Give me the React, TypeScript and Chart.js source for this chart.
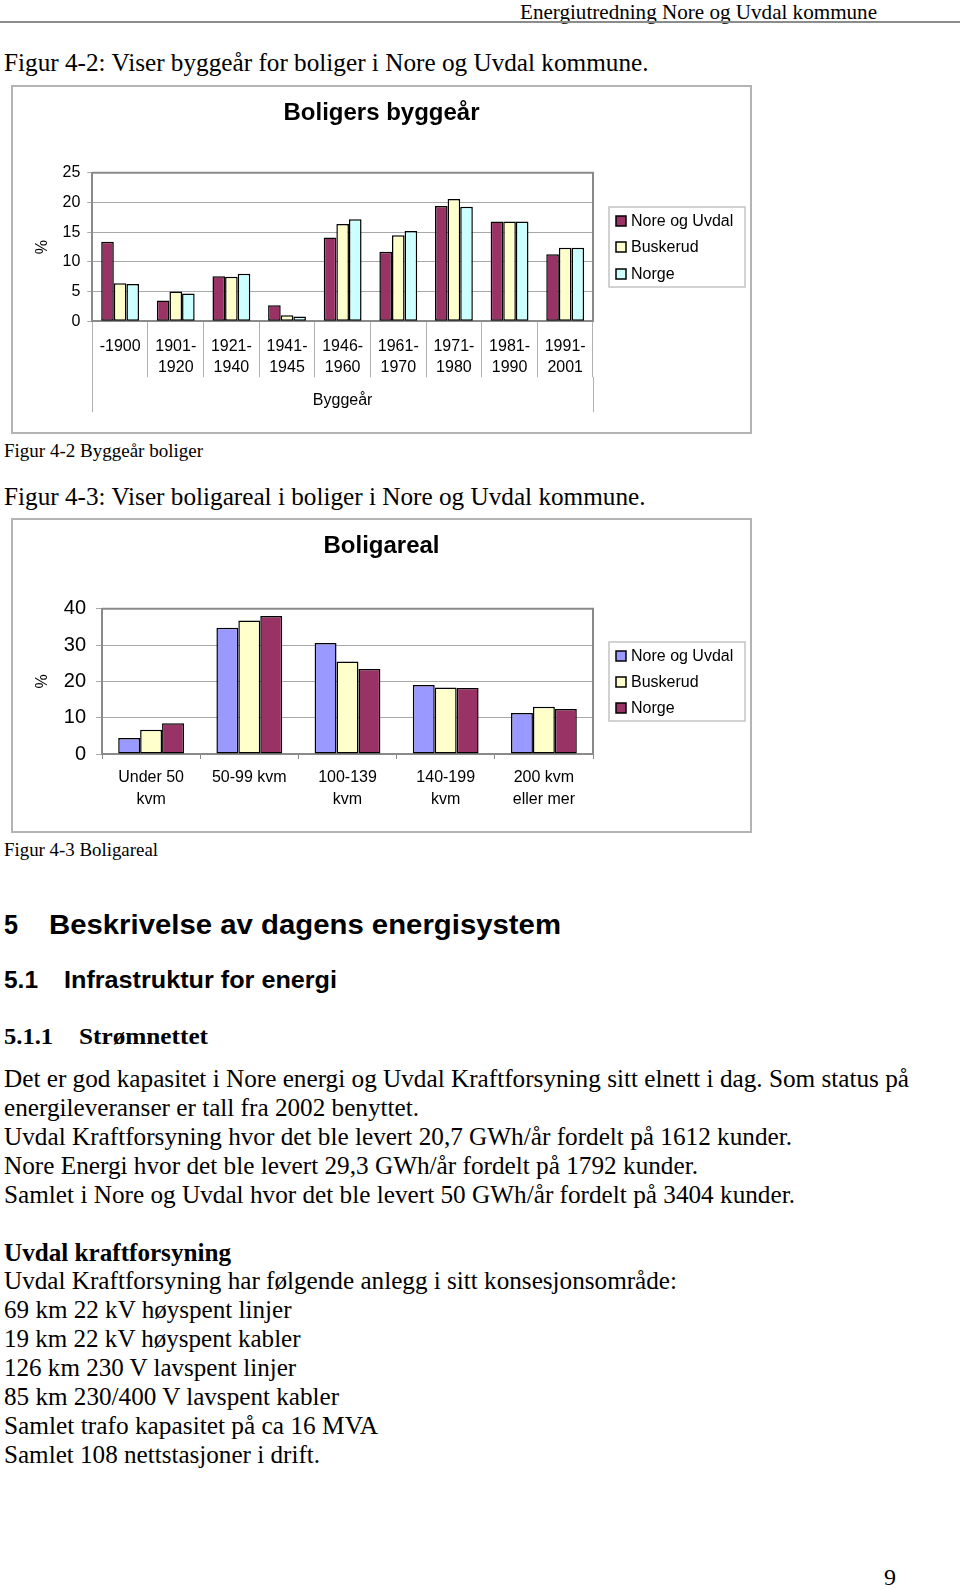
import React, { useEffect, useRef } from 'react';
import { Chart, registerables } from 'chart.js';

Chart.register(...registerables);

// ---------- Data ----------
const byggeCategories: string[][] = [
  ['-1900'], ['1901-', '1920'], ['1921-', '1940'], ['1941-', '1945'], ['1946-', '1960'],
  ['1961-', '1970'], ['1971-', '1980'], ['1981-', '1990'], ['1991-', '2001'],
];
const byggeNoreOgUvdal = [13.4, 3.5, 7.6, 2.7, 14.1, 11.7, 19.4, 16.8, 11.3];
const byggeBuskerud = [6.4, 5.0, 7.5, 1.0, 16.4, 14.5, 20.6, 16.8, 12.4];
const byggeNorge = [6.3, 4.7, 8.0, 0.8, 17.2, 15.2, 19.3, 16.8, 12.4];
const byggeAxisTitle = ['Byggeår'];

const arealCategories: string[][] = [
  ['Under 50', 'kvm'], ['50-99 kvm'], ['100-139', 'kvm'], ['140-199', 'kvm'], ['200 kvm', 'eller mer'],
];
const arealNoreOgUvdal = [4.4, 34.8, 30.6, 19.0, 11.3];
const arealBuskerud = [6.7, 36.8, 25.5, 18.3, 13.0];
const arealNorge = [8.5, 38.0, 23.4, 18.2, 12.4];

const seriesNames = ['Nore og Uvdal', 'Buskerud', 'Norge'];

const SANS = '"Liberation Sans", Arial, sans-serif';
const SERIF = '"Liberation Serif", "Times New Roman", serif';

// ---------- Chart helpers ----------
function legendPlugin(box: { x: number; y: number; w: number; h: number }, itemsY: number[], markerX: number, textX: number) {
  return {
    id: 'boxLegend',
    afterDraw(chart: any) {
      const ctx = chart.ctx;
      ctx.save();
      ctx.fillStyle = '#ffffff';
      ctx.fillRect(box.x, box.y, box.w, box.h);
      ctx.strokeStyle = '#c4c4c4';
      ctx.lineWidth = 1.5;
      ctx.strokeRect(box.x, box.y, box.w, box.h);
      chart.data.datasets.forEach((ds: any, i: number) => {
        const y = itemsY[i];
        ctx.fillStyle = ds.backgroundColor;
        ctx.fillRect(markerX, y - 5, 10, 10);
        ctx.strokeStyle = '#000';
        ctx.lineWidth = 1.5;
        ctx.strokeRect(markerX, y - 5, 10, 10);
        ctx.fillStyle = '#000';
        ctx.font = `16px ${SANS}`;
        ctx.textBaseline = 'middle';
        ctx.textAlign = 'left';
        ctx.fillText(ds.label, textX, y + 1);
      });
      ctx.restore();
    },
  };
}

const framePlugin = {
  id: 'plotFrame',
  beforeDatasetsDraw(chart: any) {
    const { left, top, right, bottom } = chart.chartArea;
    const ctx = chart.ctx;
    ctx.save();
    ctx.strokeStyle = '#8a8a8a';
    ctx.lineWidth = 2;
    ctx.beginPath();
    ctx.moveTo(left, top);
    ctx.lineTo(right, top);
    ctx.lineTo(right, bottom);
    ctx.stroke();
    ctx.restore();
  },
};

// invisible right-hand axis that reserves the legend column
const legendSpace = {
  position: 'right',
  display: true,
  ticks: { display: false },
  grid: { display: false, drawTicks: false },
  border: { display: false },
  afterFit: (axis: any) => { axis.width = 158; },
};

function useChart(ref: React.RefObject<HTMLCanvasElement>, build: () => any) {
  useEffect(() => {
    if (!ref.current) return;
    const chart = new Chart(ref.current, build());
    return () => chart.destroy();
  }, []);
}

function ByggeChart() {
  const ref = useRef<HTMLCanvasElement>(null);
  useChart(ref, () => ({
    type: 'bar',
    data: {
      labels: byggeCategories,
      datasets: [
        { label: seriesNames[0], data: byggeNoreOgUvdal, backgroundColor: '#993366' },
        { label: seriesNames[1], data: byggeBuskerud, backgroundColor: '#FFFFCC' },
        { label: seriesNames[2], data: byggeNorge, backgroundColor: '#CCFFFF' },
      ].map((d) => ({ ...d, borderColor: '#000', borderWidth: 1.5, borderSkipped: false, categoryPercentage: 0.68, barPercentage: 1 })),
    },
    options: {
      responsive: false,
      animation: false,
      layout: { padding: 0 },
      plugins: {
        legend: { display: false },
        tooltip: { enabled: false },
        title: {
          display: true,
          text: 'Boligers byggeår',
          color: '#000',
          font: { family: SANS, size: 24, weight: 'bold', lineHeight: 1.2 },
          padding: { top: 13, bottom: 45 },
        },
      },
      scales: {
        y: {
          min: 0,
          max: 25,
          ticks: { stepSize: 5, color: '#000', font: { family: SANS, size: 16 }, padding: 7 },
          grid: { color: '#a8a8a8', lineWidth: 1, tickLength: 5 },
          border: { color: '#8a8a8a', width: 2 },
          title: { display: true, text: '%', color: '#000', font: { family: SANS, size: 16 }, padding: { top: 21, bottom: 0 } },
          afterFit: (axis: any) => { axis.width = 80.3; },
        },
        yR: legendSpace,
        x: {
          offset: true,
          weight: 0,
          ticks: { color: '#000', font: { family: SANS, size: 16, lineHeight: 1.3 }, padding: -41.4, maxRotation: 0, autoSkip: false },
          grid: { offset: true, drawOnChartArea: false, color: '#b0b0b0', tickLength: 56 },
          border: { color: '#8a8a8a', width: 2 },
          afterFit: (axis: any) => { axis.height = 56; },
        },
        x2: {
          type: 'category',
          position: 'bottom',
          labels: byggeAxisTitle,
          offset: true,
          weight: 1,
          ticks: { color: '#000', font: { family: SANS, size: 16, lineHeight: 1.3 }, padding: -22, maxRotation: 0 },
          grid: { offset: true, drawOnChartArea: false, color: '#b0b0b0', tickLength: 35 },
          border: { display: false },
          afterFit: (axis: any) => { axis.height = 55.7; },
        },
      },
    },
    plugins: [framePlugin, legendPlugin({ x: 597, y: 121, w: 136, h: 80 }, [135, 161, 188], 604, 619)],
  }));
  return <canvas ref={ref} width={739} height={347} style={{ position: 'absolute', left: 12, top: 86 }} />;
}

function ArealChart() {
  const ref = useRef<HTMLCanvasElement>(null);
  useChart(ref, () => ({
    type: 'bar',
    data: {
      labels: arealCategories,
      datasets: [
        { label: seriesNames[0], data: arealNoreOgUvdal, backgroundColor: '#9999FF' },
        { label: seriesNames[1], data: arealBuskerud, backgroundColor: '#FFFFCC' },
        { label: seriesNames[2], data: arealNorge, backgroundColor: '#993366' },
      ].map((d) => ({ ...d, borderColor: '#000', borderWidth: 1.5, borderSkipped: false, categoryPercentage: 0.67, barPercentage: 1 })),
    },
    options: {
      responsive: false,
      animation: false,
      layout: { padding: 0 },
      plugins: {
        legend: { display: false },
        tooltip: { enabled: false },
        title: {
          display: true,
          text: 'Boligareal',
          color: '#000',
          font: { family: SANS, size: 24, weight: 'bold', lineHeight: 1.2 },
          padding: { top: 13, bottom: 48 },
        },
      },
      scales: {
        y: {
          min: 0,
          max: 40,
          ticks: { stepSize: 10, color: '#000', font: { family: SANS, size: 20 }, padding: 10 },
          grid: { color: '#a8a8a8', lineWidth: 1, tickLength: 6 },
          border: { color: '#8a8a8a', width: 2 },
          title: { display: true, text: '%', color: '#000', font: { family: SANS, size: 16 }, padding: { top: 21, bottom: 0 } },
          afterFit: (axis: any) => { axis.width = 90; },
        },
        yR: legendSpace,
        x: {
          offset: true,
          ticks: { color: '#000', font: { family: SANS, size: 16, lineHeight: 1.375 }, padding: 8, maxRotation: 0, autoSkip: false },
          grid: { offset: true, drawOnChartArea: false, color: '#8a8a8a', tickLength: 5 },
          border: { color: '#8a8a8a', width: 2 },
          afterFit: (axis: any) => { axis.height = 78; },
        },
      },
    },
    plugins: [framePlugin, legendPlugin({ x: 597, y: 123, w: 136, h: 79 }, [137, 163, 189], 604, 619)],
  }));
  return <canvas ref={ref} width={739} height={313} style={{ position: 'absolute', left: 12, top: 519 }} />;
}

// ---------- Text helper ----------
let measureCtx: CanvasRenderingContext2D | null = null;
function measure(text: string, font: string) {
  if (!measureCtx) measureCtx = document.createElement('canvas').getContext('2d');
  if (!measureCtx) return 0;
  measureCtx.font = font;
  return measureCtx.measureText(text).width;
}

function T({ text, x, cy, w, size, family = SERIF, weight = 'normal', lh = 29 }: any) {
  const font = `${weight} ${size}px ${family}`;
  const natural = measure(text, font);
  const sx = w && natural ? w / natural : 1;
  return (
    <div
      style={{
        position: 'absolute', left: x, top: cy - lh / 2, height: lh, lineHeight: `${lh}px`, font,
        whiteSpace: 'pre', color: '#000', transform: `scaleX(${sx})`, transformOrigin: '0 0',
      }}
    >
      {text}
    </div>
  );
}

const bodyLines: [string, number, number][] = [
  ['Det er god kapasitet i Nore energi og Uvdal Kraftforsyning sitt elnett i dag. Som status på', 1079, 905],
  ['energileveranser er tall fra 2002 benyttet.', 1108, 415],
  ['Uvdal Kraftforsyning hvor det ble levert 20,7 GWh/år fordelt på 1612 kunder.', 1137, 788],
  ['Nore Energi hvor det ble levert 29,3 GWh/år fordelt på 1792 kunder.', 1166, 694],
  ['Samlet i Nore og Uvdal hvor det ble levert 50 GWh/år fordelt på 3404 kunder.', 1195, 791],
];
const anleggLines: [string, number, number][] = [
  ['Uvdal Kraftforsyning har følgende anlegg i sitt konsesjonsområde:', 1281, 673],
  ['69 km 22 kV høyspent linjer', 1310, 288],
  ['19 km 22 kV høyspent kabler', 1339, 297],
  ['126 km 230 V lavspent linjer', 1368, 293],
  ['85 km 230/400 V lavspent kabler', 1397, 336],
  ['Samlet trafo kapasitet på ca 16 MVA', 1426, 374],
  ['Samlet 108 nettstasjoner i drift.', 1455, 316],
];

export default function App() {
  return (
    <div style={{ position: 'absolute', left: 0, top: 0, width: 960, height: 1589, background: '#fff', overflow: 'hidden' }}>
      <T text="Energiutredning Nore og Uvdal kommune" x={520} cy={11} w={357} size={22} lh={24} />
      <div style={{ position: 'absolute', left: 0, top: 21, width: 960, height: 2, background: '#8c8c8c' }} />
      <T text="Figur 4-2: Viser byggeår for boliger i Nore og Uvdal kommune." x={4} cy={63} w={645} size={25} />

      <div style={{ position: 'absolute', left: 11, top: 85, width: 741, height: 349, boxSizing: 'border-box', border: '2px solid #b4b4b4' }} />
      <ByggeChart />

      <T text="Figur 4-2 Byggeår boliger" x={4} cy={451} w={199} size={19} lh={22} />
      <T text="Figur 4-3: Viser boligareal i boliger i Nore og Uvdal kommune." x={4} cy={497} w={642} size={25} />

      <div style={{ position: 'absolute', left: 11, top: 518, width: 741, height: 315, boxSizing: 'border-box', border: '2px solid #b4b4b4' }} />
      <ArealChart />

      <T text="Figur 4-3 Boligareal" x={4} cy={850} w={154} size={19} lh={22} />

      <T text="5" x={4} cy={926} w={14} size={27} family={SANS} weight="bold" lh={32} />
      <T text="Beskrivelse av dagens energisystem" x={49} cy={926} w={512} size={27} family={SANS} weight="bold" lh={32} />
      <T text="5.1" x={4} cy={981} w={34} size={23} family={SANS} weight="bold" />
      <T text="Infrastruktur for energi" x={64} cy={981} w={273} size={23} family={SANS} weight="bold" />
      <T text="5.1.1" x={4} cy={1037} w={49} size={24} weight="bold" />
      <T text="Strømnettet" x={79} cy={1037} w={129} size={24} weight="bold" />

      {bodyLines.map(([t, cy, w]) => (
        <T key={t} text={t} x={4} cy={cy} w={w} size={25} />
      ))}
      <T text="Uvdal kraftforsyning" x={4} cy={1253} w={227} size={25} weight="bold" />
      {anleggLines.map(([t, cy, w]) => (
        <T key={t} text={t} x={4} cy={cy} w={w} size={25} />
      ))}
      <T text="9" x={884} cy={1578} size={24} />
    </div>
  );
}
